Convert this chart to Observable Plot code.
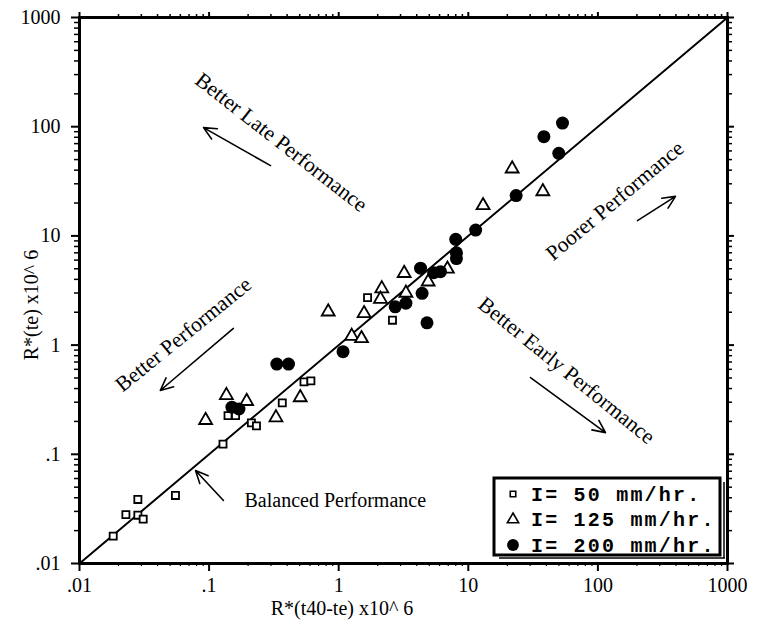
<!DOCTYPE html>
<html>
<head>
<meta charset="utf-8">
<script src="https://cdn.jsdelivr.net/npm/d3@7"></script>
<script src="https://cdn.jsdelivr.net/npm/@observablehq/plot@0.6"></script>
<style>
  html, body { margin: 0; padding: 0; background: white; }
  #chart { width: 763px; height: 628px; }
</style>
</head>
<body>
<div id="chart"></div>
<script>
// ---- data ----
const xTitle = "R*(t40-te) x10^ 6";
const yTitle = "R*(te) x10^ 6";
const majorTicks = [0.01, 0.1, 1, 10, 100, 1000];
const tickLabels = [".01", ".1", "1", "10", "100", "1000"];

// I = 50 mm/hr (open squares)
const i50 = [
  [0.0182, 0.0178], [0.0228, 0.028], [0.0282, 0.0386], [0.0282, 0.0277], [0.031, 0.0255],
  [0.055, 0.042], [0.128, 0.124], [0.14, 0.226], [0.16, 0.226], [0.212, 0.194],
  [0.232, 0.182], [0.367, 0.296], [0.54, 0.46], [0.61, 0.47], [1.67, 2.72], [2.6, 1.69]
];
// I = 125 mm/hr (open triangles)
const i125 = [
  [0.094, 0.205], [0.136, 0.347], [0.195, 0.306], [0.328, 0.217], [0.505, 0.331],
  [0.83, 2.02], [1.26, 1.21], [1.5, 1.15], [1.57, 1.95], [2.15, 3.29], [2.1, 2.64],
  [3.2, 4.55], [3.3, 3.0], [4.9, 3.8], [6.9, 4.98], [13.0, 19], [21.8, 41.2], [37.6, 25.5]
];
// I = 200 mm/hr (filled circles)
const i200 = [
  [0.15, 0.27], [0.17, 0.26], [0.333, 0.67], [0.41, 0.67], [1.08, 0.87],
  [2.73, 2.24], [3.3, 2.42], [4.28, 5.06], [4.4, 2.98], [4.8, 1.6],
  [5.4, 4.6], [6.1, 4.7], [8.1, 7.0], [8.1, 6.2], [8.0, 9.3], [11.4, 11.3],
  [23.4, 23.4], [38.3, 81], [53.3, 108], [49.9, 57]
];
const legendLabels = ["I= 50 mm/hr.", "I= 125 mm/hr.", "I= 200 mm/hr."];

// rotated annotations (data coordinates)
const notes = [
  {label: "Better Late Performance", x: 0.36, y: 72, angle: 38},
  {label: "Better Performance", x: 0.0634, y: 1.25, angle: -39},
  {label: "Poorer Performance", x: 135, y: 21, angle: -40},
  {label: "Better Early Performance", x: 57.3, y: 0.585, angle: 39}
];
const balancedNote = [{label: "Balanced Performance", x: 0.1875, y: 0.0378}];
const noteArrows = [
  {x1: 0.298, y1: 44, x2: 0.0906, y2: 98},
  {x1: 0.154, y1: 1.42, x2: 0.042, y2: 0.384},
  {x1: 202, y1: 13.8, x2: 397, y2: 23},
  {x1: 30.2, y1: 0.504, x2: 114.5, y2: 0.158},
  {x1: 0.129, y1: 0.0378, x2: 0.0786, y2: 0.071}
];
const diagonal = [0.01, 1000];

// ---- derived ----
const minorTicks = [];
for (let e = -2; e < 3; e++) for (let m = 2; m <= 9; m++) minorTicks.push(m * Math.pow(10, e));
const fmt = d => tickLabels[majorTicks.findIndex(t => Math.abs(t - d) / t < 1e-9)] ?? "";

const plot = Plot.plot({
  width: 763, height: 628,
  marginLeft: 79, marginRight: 36, marginTop: 17, marginBottom: 65,
  style: {fontFamily: "'Liberation Serif', 'Times New Roman', serif", fontSize: "20px", color: "black", background: "white", overflow: "visible"},
  x: {type: "log", domain: [0.01, 1000], label: null},
  y: {type: "log", domain: [0.01, 1000], label: null},
  marks: [
    Plot.axisX({ticks: majorTicks, tickFormat: fmt, tickSize: 8, tickPadding: 6, strokeWidth: 2, label: null, fontSize: 20}),
    Plot.axisX({ticks: minorTicks, tickSize: 3, text: null, label: null, strokeWidth: 1.2}),
    Plot.axisX({anchor: "top", ticks: majorTicks, tickSize: 6, text: null, label: null, strokeWidth: 2}),
    Plot.axisX({anchor: "top", ticks: minorTicks, tickSize: 4, text: null, label: null, strokeWidth: 1.5}),
    Plot.axisY({ticks: majorTicks, tickFormat: fmt, tickSize: 8, tickPadding: 11, strokeWidth: 2, label: null, fontSize: 20}),
    Plot.axisY({ticks: minorTicks, tickSize: 5, text: null, label: null, strokeWidth: 1.5}),
    Plot.axisY({anchor: "right", ticks: majorTicks, tickSize: 6, text: null, label: null, strokeWidth: 2}),
    Plot.axisY({anchor: "right", ticks: minorTicks, tickSize: 4, text: null, label: null, strokeWidth: 1.5}),
    Plot.line(diagonal, {x: d => d, y: d => d, stroke: "black", strokeWidth: 2}),
    Plot.dot(i50, {x: d => d[0], y: d => d[1], symbol: "square", r: 4, stroke: "black", strokeWidth: 1.8, fill: "white"}),
    Plot.dot(i125, {x: d => d[0], y: d => d[1], symbol: "triangle", r: 4.8, stroke: "black", strokeWidth: 1.8, fill: "white"}),
    Plot.dot(i200, {x: d => d[0], y: d => d[1], symbol: "circle", r: 6.5, fill: "black", stroke: "none"}),
    Plot.text(notes, {x: "x", y: "y", text: "label", rotate: "angle", textAnchor: "middle", fontSize: 21.5, fill: "black"}),
    Plot.text(balancedNote, {x: "x", y: "y", text: "label", textAnchor: "start", fontSize: 20, fill: "black"}),
    Plot.arrow(noteArrows, {x1: "x1", y1: "y1", x2: "x2", y2: "y2", stroke: "black", strokeWidth: 1.6, headLength: 13, headAngle: 50}),
    Plot.frame({stroke: "black", strokeWidth: 3})
  ]
});

document.getElementById("chart").appendChild(plot);
const svg = d3.select(plot);

// titles
svg.append("text").attr("x", 342).attr("y", 615).attr("text-anchor", "middle")
  .attr("font-size", 20).attr("fill", "black").text(xTitle);
svg.append("text").attr("transform", "translate(38,305) rotate(-90)").attr("text-anchor", "middle")
  .attr("font-size", 20).attr("fill", "black").text(yTitle);

// legend
const lg = svg.append("g").attr("text-anchor", "start");
lg.append("line").attr("x1", 499).attr("x2", 725).attr("y1", 558).attr("y2", 558).attr("stroke", "black").attr("stroke-width", 1.5);
lg.append("line").attr("x1", 724).attr("x2", 724).attr("y1", 482).attr("y2", 558).attr("stroke", "black").attr("stroke-width", 1.5);
lg.append("rect").attr("x", 494).attr("y", 478).attr("width", 226).attr("height", 77)
  .attr("fill", "white").attr("stroke", "black").attr("stroke-width", 3);
const symTypes = [d3.symbolSquare, d3.symbolTriangle, d3.symbolCircle];
const symSizes = [30, 55, 110];
const symFill = ["white", "white", "black"];
legendLabels.forEach((lab, i) => {
  const cy = 494 + i * 25.5;
  lg.append("path").attr("d", d3.symbol(symTypes[i], symSizes[i])())
    .attr("transform", `translate(513,${cy})`).attr("fill", symFill[i])
    .attr("stroke", i < 2 ? "black" : "none").attr("stroke-width", 1.6);
  lg.append("text").attr("x", 531).attr("y", cy + 6.5).attr("text-anchor", "start")
    .attr("font-family", "'Liberation Mono', 'Courier New', monospace").attr("font-size", 20)
    .attr("font-weight", "bold").attr("letter-spacing", 2.2).attr("fill", "black").text(lab);
});
</script>
</body>
</html>
